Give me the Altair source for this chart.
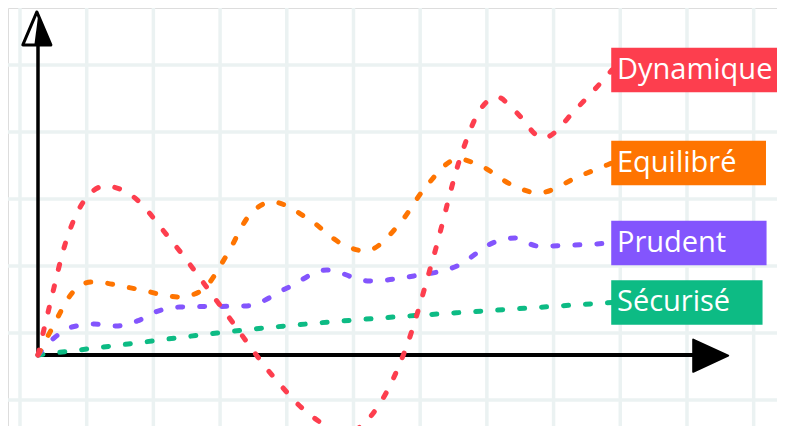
import altair as alt
import pandas as pd

# ---------------- data ----------------
SERIES = ["Sécurisé", "Prudent", "Equilibré", "Dynamique"]
COLORS = ["#0dbb84", "#8355fd", "#fe7401", "#fd3e4e"]

secu_x = [0, 1.57, 3.12, 4.67, 6.22, 7.75, 10.0]
secu_y = [0, 0.82, 1.64, 2.31, 2.84, 3.28, 3.92]

prud_x = [0, 0.26, 0.59, 0.98, 1.36, 1.73, 2.09, 2.47, 3.64, 4.34, 5.03, 5.77, 6.55, 7.30, 7.96, 8.31, 8.71, 10.0]
prud_y = [0, 1.19, 2.09, 2.31, 2.16, 2.54, 3.28, 3.58, 3.66, 5.0, 6.34, 5.52, 5.90, 6.64, 8.43, 8.73, 8.13, 8.36]

equi_x = [0, 0.23, 0.61, 0.94, 1.71, 2.47, 2.84, 3.28, 3.66, 4.08, 4.69, 5.33, 5.70, 6.31, 6.74, 7.32, 7.68, 8.33, 8.71, 9.44, 10.0]
equi_y = [0, 1.87, 4.70, 5.45, 4.93, 4.33, 4.78, 7.39, 10.30, 11.42, 10.22, 8.21, 7.76, 9.85, 12.46, 14.63, 14.18, 12.54, 12.09, 13.36, 14.33]

dyna_x = [0, 0.21, 0.49, 0.80, 1.17, 1.60, 2.30, 3.22, 4.15, 4.70, 5.38, 5.94, 6.43, 6.88, 7.39, 7.70, 8.00, 8.31, 8.80, 9.39, 10.0]
dyna_y = [0, 3.81, 8.51, 11.49, 12.61, 12.0, 8.66, 3.43, -1.87, -4.33, -5.75, -3.73, 0.75, 7.16, 15.15, 18.28, 19.25, 18.21, 16.19, 18.43, 21.27]

SERIES_X = [secu_x, prud_x, equi_x, dyna_x]
SERIES_Y = [secu_y, prud_y, equi_y, dyna_y]

# label box right edges (layout)
BOX_RIGHT = [12.61, 12.68, 12.67, 12.98]
BOX_HALF = 1.6

# ---------------- layout ----------------
W, H = 769, 418
X_DOMAIN = [-0.5226, 12.875]
Y_DOMAIN = [-5.299, 25.896]
xs = alt.Scale(domain=X_DOMAIN, nice=False, zero=False)
ys = alt.Scale(domain=Y_DOMAIN, nice=False, zero=False)

GRID_COLOR = "#ebf2f2"
grid_x = [-0.3136 + 1.162 * i for i in range(-1, 13)]
grid_y = [1.64 + 5 * i for i in range(-2, 6)]

layers = []

vgrid = alt.Chart(pd.DataFrame({"gx": grid_x})).mark_rule(
    color=GRID_COLOR, strokeWidth=3.5
).encode(x=alt.X("gx:Q", scale=xs, axis=None))
hgrid = alt.Chart(pd.DataFrame({"gy": grid_y})).mark_rule(
    color=GRID_COLOR, strokeWidth=3.5
).encode(y=alt.Y("gy:Q", scale=ys, axis=None))
layers += [vgrid, hgrid]

# axes
x_axis = alt.Chart(pd.DataFrame({"x": [0.0], "x2": [11.5], "y": [0.0]})).mark_rule(
    color="black", strokeWidth=4
).encode(
    x=alt.X("x:Q", scale=xs, axis=None), x2="x2:Q", y=alt.Y("y:Q", scale=ys, axis=None)
)
y_axis = alt.Chart(pd.DataFrame({"x": [0.0], "y": [0.0], "y2": [23.6]})).mark_rule(
    color="black", strokeWidth=3.5
).encode(
    x=alt.X("x:Q", scale=xs, axis=None), y=alt.Y("y:Q", scale=ys, axis=None), y2="y2:Q"
)
x_head = alt.Chart(pd.DataFrame({"x": [11.72], "y": [-0.05]})).mark_point(
    shape="M-1,-0.92L1,0L-1,0.92Z", size=1225, filled=True, color="black",
    stroke="black", strokeWidth=2, strokeJoin="round", opacity=1
).encode(x=alt.X("x:Q", scale=xs, axis=None), y=alt.Y("y:Q", scale=ys, axis=None))
y_head = alt.Chart(pd.DataFrame({"x": [-0.02], "y": [24.37]})).mark_point(
    shape="M0,-1L-0.85,1L0.85,1Z", size=1089, filled=False, color="black",
    strokeWidth=3, strokeJoin="round", opacity=1
).encode(x=alt.X("x:Q", scale=xs, axis=None), y=alt.Y("y:Q", scale=ys, axis=None))
y_head_fill = alt.Chart(pd.DataFrame({"x": [-0.02], "y": [24.37]})).mark_point(
    shape="M0.08,-0.8L-0.15,1L0.8,1Z", size=1089, filled=True, color="black", opacity=1
).encode(x=alt.X("x:Q", scale=xs, axis=None), y=alt.Y("y:Q", scale=ys, axis=None))
layers += [x_axis, y_axis, x_head, y_head, y_head_fill]

# series lines
for name, color, sx, sy in zip(SERIES, COLORS, SERIES_X, SERIES_Y):
    df = pd.DataFrame({"x": sx, "y": sy, "serie": name})
    layers.append(
        alt.Chart(df).mark_line(
            color=color, strokeWidth=5, strokeDash=[5, 17], strokeCap="round",
            interpolate="monotone"
        ).encode(
            x=alt.X("x:Q", scale=xs, axis=None),
            y=alt.Y("y:Q", scale=ys, axis=None),
            order="x:Q",
        )
    )

# labels
for name, color, sx, sy, right in zip(SERIES, COLORS, SERIES_X, SERIES_Y, BOX_RIGHT):
    yc = sy[-1]
    df = pd.DataFrame({"x": [sx[-1]], "x2": [right], "y": [yc - BOX_HALF],
                       "y2": [yc + BOX_HALF], "yc": [yc], "label": [name]})
    box = alt.Chart(df).mark_rect(color=color, stroke=color, strokeWidth=1.5).encode(
        x=alt.X("x:Q", scale=xs, axis=None), x2="x2:Q",
        y=alt.Y("y:Q", scale=ys, axis=None), y2="y2:Q",
    )
    txt = alt.Chart(df).mark_text(
        align="left", baseline="middle", dx=5, dy=0, color="white",
        fontSize=29, font="Open Sans", fontWeight=500
    ).encode(
        x=alt.X("x:Q", scale=xs, axis=None),
        y=alt.Y("yc:Q", scale=ys, axis=None),
        text="label:N",
    )
    layers += [box, txt]

chart = alt.layer(*layers).properties(
    width=W, height=H, autosize=alt.AutoSizeParams(type="none"), padding=0
).configure_view(stroke=None).configure(background="white")

chart.save("out.html", embed_options={"renderer": "svg", "actions": False})
